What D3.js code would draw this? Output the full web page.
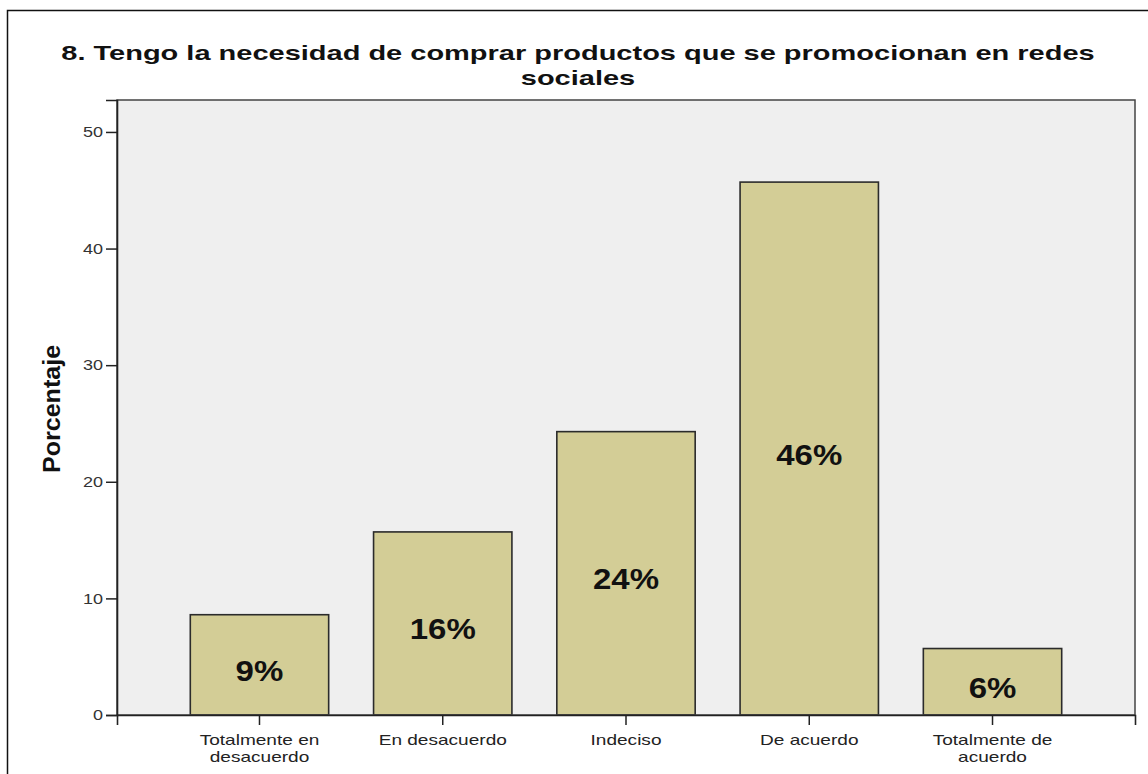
<!DOCTYPE html>
<html>
<head>
<meta charset="utf-8">
<script src="https://cdn.jsdelivr.net/npm/d3@7"></script>
<style>
  html, body { margin: 0; padding: 0; background: #ffffff; }
  svg { display: block; font-family: "Liberation Sans", Arial, sans-serif; }
</style>
</head>
<body>
<svg id="chart" width="1148" height="774"></svg>
<script>
// Survey item 8: share of respondents per answer option
const titleLines = ["8. Tengo la necesidad de comprar productos que se promocionan en redes", "sociales"];
const categories = ["Totalmente en desacuerdo", "En desacuerdo", "Indeciso", "De acuerdo", "Totalmente de acuerdo"];
const categoryLines = [["Totalmente en", "desacuerdo"], ["En desacuerdo"], ["Indeciso"], ["De acuerdo"], ["Totalmente de", "acuerdo"]];
const percentages = [8.6, 15.7, 24.3, 45.7, 5.7];
const yTicks = [0, 10, 20, 30, 40, 50];
const yLabel = "Porcentaje";

const svg = d3.select("#chart");

// widen glyphs horizontally by factor k (chart text is set in a wide face)
function widen(sel, k) {
  sel.each(function() {
    const w = this.getComputedTextLength();
    d3.select(this)
      .attr("textLength", w * k)
      .attr("lengthAdjust", "spacingAndGlyphs");
  });
}

// plot frame
const plot = { left: 117, top: 100, right: 1135, bottom: 715 };

const x = d3.scaleBand()
  .domain(categories)
  .range([plot.left, plot.right])
  .paddingInner(0.245)
  .paddingOuter(0.40);

const y = d3.scaleLinear()
  .domain([0, 52.74])
  .range([plot.bottom, plot.top]);

// outer chart border
svg.append("rect")
  .attr("x", 7.5).attr("y", 10.5)
  .attr("width", 1145).attr("height", 770)
  .attr("fill", "#ffffff")
  .attr("stroke", "#111").attr("stroke-width", 1.5);

// plot background
svg.append("rect")
  .attr("x", plot.left).attr("y", plot.top)
  .attr("width", plot.right - plot.left).attr("height", plot.bottom - plot.top)
  .attr("fill", "#efefef");

// title, one text element per line
const title = svg.append("g")
  .selectAll("text")
  .data(titleLines)
  .join("text")
  .attr("x", 578)
  .attr("y", (d, i) => 60 + i * 25)
  .attr("text-anchor", "middle")
  .attr("font-size", 21).attr("font-weight", "bold").attr("fill", "#111")
  .text(d => d);
widen(title, 1.38);

// bars
const idx = d3.range(categories.length);
svg.append("g")
  .selectAll("rect")
  .data(idx)
  .join("rect")
  .attr("x", i => x(categories[i]))
  .attr("y", i => y(percentages[i]))
  .attr("width", x.bandwidth())
  .attr("height", i => y(0) - y(percentages[i]))
  .attr("fill", "#d3cd96")
  .attr("stroke", "#2b2b2b")
  .attr("stroke-width", 1.6);

// value labels inside bars
const fmt = v => d3.format(".0f")(v) + "%";
const valueLabels = svg.append("g")
  .selectAll("text")
  .data(idx)
  .join("text")
  .attr("x", i => x(categories[i]) + x.bandwidth() / 2)
  .attr("y", i => (y(percentages[i]) + y(0)) / 2 + 16)
  .attr("text-anchor", "middle")
  .attr("font-size", 30).attr("font-weight", "bold").attr("fill", "#111")
  .text(i => fmt(percentages[i]));
widen(valueLabels, 1.1);

// plot frame
svg.append("rect")
  .attr("x", plot.left).attr("y", plot.top)
  .attr("width", plot.right - plot.left).attr("height", plot.bottom - plot.top)
  .attr("fill", "none")
  .attr("stroke", "#444").attr("stroke-width", 1.5);

// y axis
const yAxis = d3.axisLeft(y).tickValues(yTicks).tickSize(11).tickPadding(3);
const gy = svg.append("g").attr("transform", `translate(${plot.left},0)`).call(yAxis);
gy.select(".domain").attr("stroke", "#222").attr("stroke-width", 1.6);
gy.selectAll(".tick line").attr("stroke", "#222").attr("stroke-width", 1.5);
gy.selectAll(".tick text")
  .attr("font-size", 15).attr("fill", "#333")
  .attr("font-family", "Liberation Sans, Arial, sans-serif");
widen(gy.selectAll(".tick text"), 1.2);

// x axis
const xAxis = d3.axisBottom(x).tickSize(10).tickFormat("");
const gx = svg.append("g").attr("transform", `translate(0,${plot.bottom})`).call(xAxis);
gx.select(".domain").attr("stroke", "#222").attr("stroke-width", 1.6);
gx.selectAll(".tick line").attr("stroke", "#222").attr("stroke-width", 1.5);

// multi-line category labels
gx.selectAll(".tick").each(function(d) {
  const lines = categoryLines[categories.indexOf(d)];
  const t = d3.select(this).selectAll("text.cat")
    .data(lines)
    .join("text")
    .attr("class", "cat")
    .attr("x", 0)
    .attr("y", (s, j) => 29.5 + j * 17)
    .attr("text-anchor", "middle")
    .attr("font-size", 15).attr("fill", "#222")
    .attr("font-family", "Liberation Sans, Arial, sans-serif")
    .text(s => s);
  widen(t, 1.27);
});

// y axis title
const yTitle = svg.append("text")
  .attr("transform", `translate(60,409) rotate(-90)`)
  .attr("text-anchor", "middle")
  .attr("font-size", 23).attr("font-weight", "bold").attr("fill", "#111")
  .text(yLabel);
widen(yTitle, 1.09);
</script>
</body>
</html>
